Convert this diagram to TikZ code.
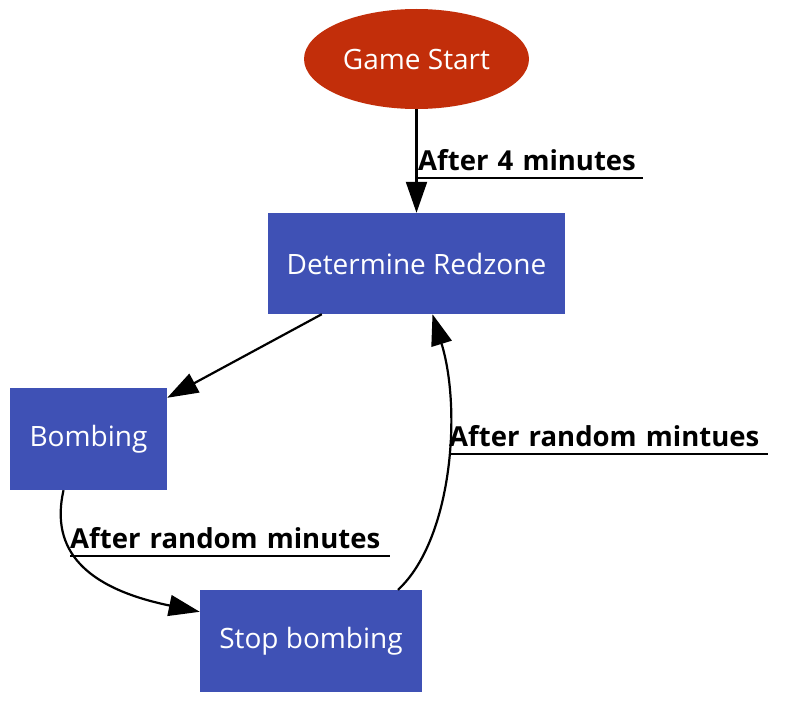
\documentclass[tikz,border=0pt]{standalone}
\usepackage{fontspec}
\setmainfont{Open Sans}
\usetikzlibrary{arrows.meta,shapes.geometric}
\definecolor{startred}{RGB}{194,46,10}
\definecolor{stateblue}{RGB}{63,81,181}
\tikzset{
	statebox/.style={draw=none, fill=stateblue, text=white, inner sep=0pt, font=\fontsize{28}{34}\selectfont},
	edge/.style={line width=2.2pt, -{Triangle[length=31pt,width=21pt]}},
	lbl/.style={anchor=south west, inner xsep=0pt, inner ysep=7pt, align=left, font=\fontsize{27.5}{33}\selectfont\bfseries}
}

\begin{document}
\begin{tikzpicture}[x=1pt, y=-1pt]
			%%%%% START %%%%%
			\useasboundingbox (0,0) rectangle (794,717);
			
			\node[ellipse, fill=startred, text=white, minimum width=225pt, minimum height=100pt, inner sep=0pt, font=\fontsize{28}{34}\selectfont] (start) at (416.5, 59) {Game Start};
			
			\node[statebox, minimum width=297pt, minimum height=101pt] (redzone) at (416.5, 263.5) {Determine Redzone};
			\node[statebox, minimum width=157pt, minimum height=102pt] (bombing) at (88.5, 439) {Bombing};
			\node[statebox, minimum width=222pt, minimum height=102pt] (stopbomb) at (311, 641) {Stop bombing};
			
			\draw[edge] (start) -- (redzone);
			\node[lbl, text width=225pt] (lblfour) at (418, 178) {After 4 minutes};
			\draw[line width=2.2pt] (lblfour.south west) -- (lblfour.south east);
			
			\draw[edge] ([xshift=54pt]redzone.south west) -- ([yshift=-10pt]bombing.north east);
			
			\draw[edge] ([xshift=-25pt]bombing.south) .. controls (50, 550) and (85, 588) .. ([yshift=-22pt]stopbomb.north west);
			\node[lbl, text width=320pt] (lblbomb) at (70, 556) {After random minutes};
			\draw[line width=2.2pt] (lblbomb.south west) -- (lblbomb.south east);
			
			\draw[edge] ([xshift=87pt]stopbomb.north) .. controls (452, 540) and (462, 410) .. ([xshift=16pt]redzone.south);
			\node[lbl, text width=319pt] (lblstop) at (449, 454) {After random mintues};
			\draw[line width=2.2pt] (lblstop.south west) -- (lblstop.south east);
			
			%%%%% END %%%%%
\end{tikzpicture}
\end{document}
